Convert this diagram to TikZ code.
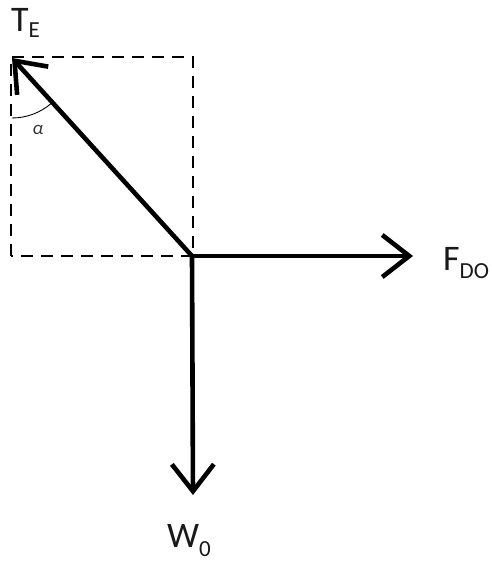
\documentclass[tikz,border=0pt]{standalone}
\usepackage{fontspec}
\setmainfont{Carlito}
\usetikzlibrary{arrows.meta}
\tikzset{
  force/.style={line width=4.6pt, line cap=round, line join=round,
    -{Straight Barb[length=27pt,width=42pt,line width=4.6pt]}},
  guide/.style={line width=1.3pt, dash pattern=on 12pt off 8pt},
  lab/.style={inner sep=0pt, anchor=base west, text=black!90},
}
\newcommand{\bigtxt}{\fontsize{36}{36}\selectfont}
\newcommand{\subtxt}{\fontsize{23}{23}\selectfont}
\begin{document}
\begin{tikzpicture}[x=1pt,y=-1pt]
\useasboundingbox (0,0) rectangle (491,561);
\coordinate (O) at (192,256);
\coordinate (te) at (12,58);
\coordinate (fd) at (413,256);
\coordinate (w) at (193,495);
\coordinate (bl) at (11,256);
\coordinate (tr) at (193,57);
% dashed component box
\draw[guide] (bl) -- (11,57) -- (tr) -- (193,256) -- cycle;
% angle
\draw[line width=0.9pt] (te) ++(0,60) arc[start angle=90, end angle=49, radius=60];
\node[inner sep=0pt, text=black!80] (alpha) at (38,130) {\fontsize{19}{19}\selectfont\itshape α};
% forces
\draw[force] (O) -- (te);
\draw[force] (O) -- (fd);
\draw[force] (O) -- (w);
% labels
\node[lab] (lte) at (11,32) {\bigtxt T\raisebox{-6pt}{\subtxt E}};
\node[lab] (lfd) at (443,270) {\bigtxt F\raisebox{-8pt}{\subtxt DO}};
\node[lab] (lw) at (167,547) {\bigtxt W\raisebox{-9pt}{\subtxt 0}};
\end{tikzpicture}
\end{document}
